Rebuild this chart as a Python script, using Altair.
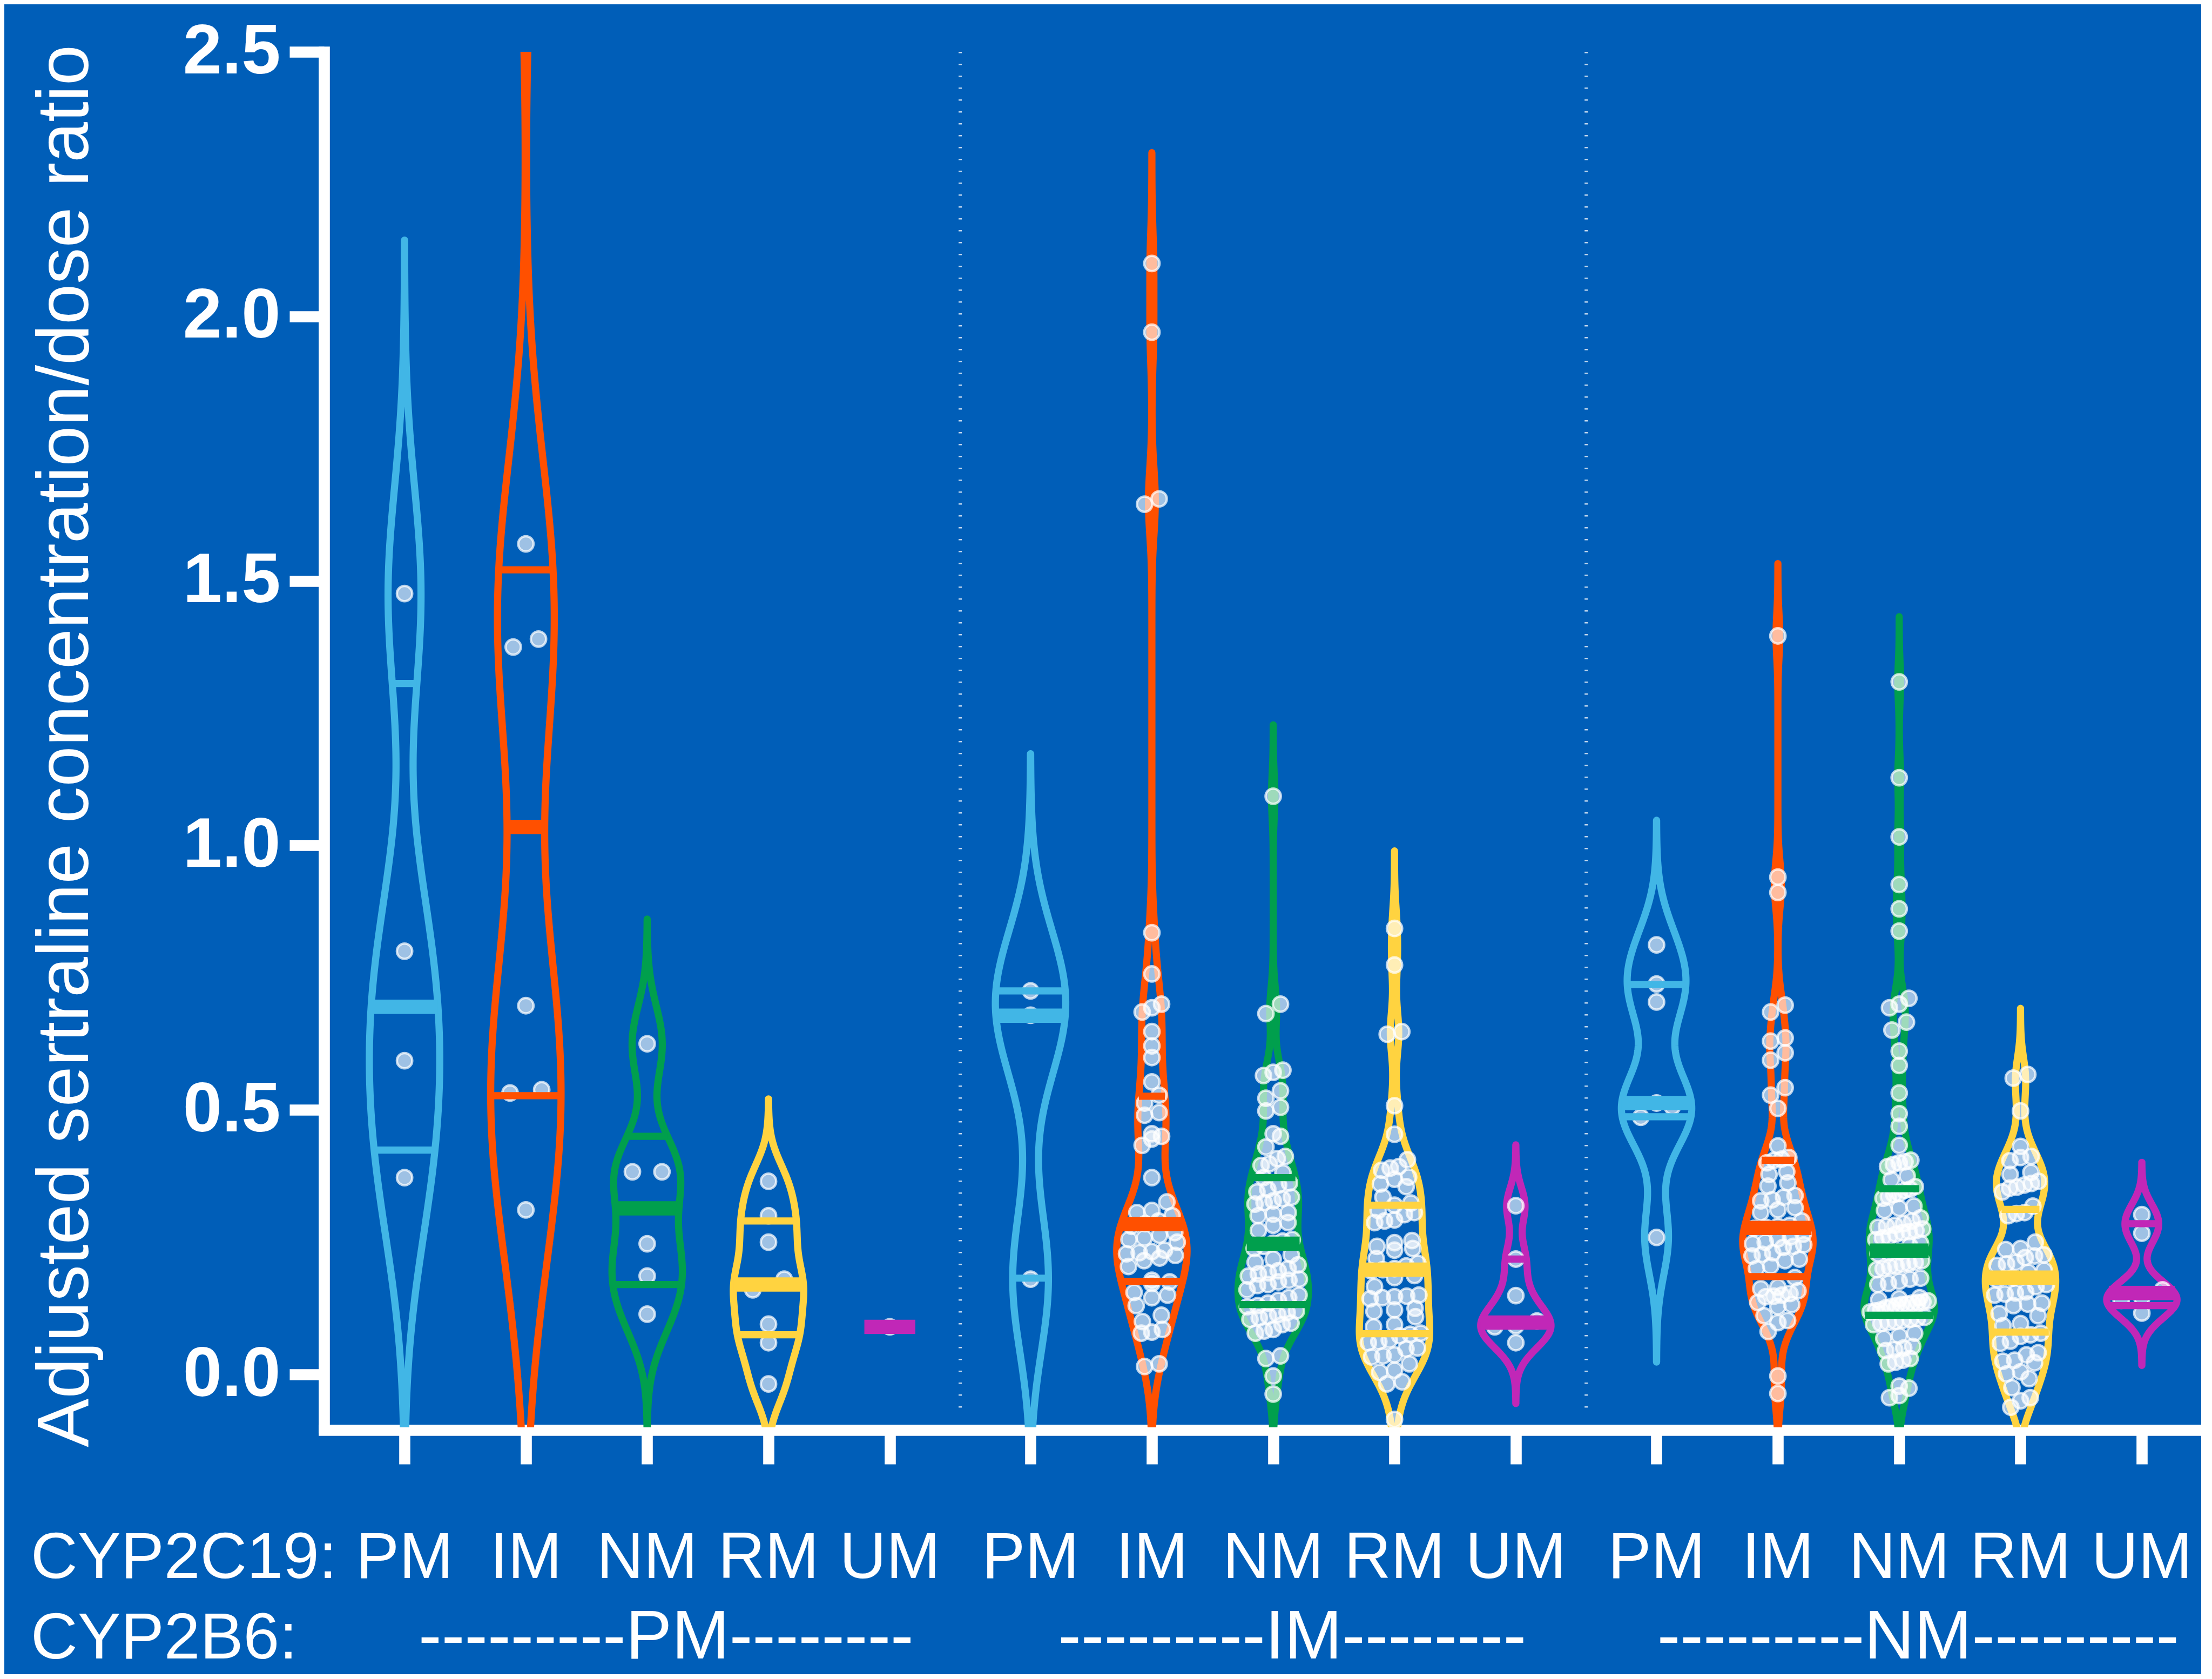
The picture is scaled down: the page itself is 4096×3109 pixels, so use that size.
import numpy as np
import pandas as pd
import altair as alt

# ---------------- data ----------------
cyp2c19 = ["PM", "IM", "NM", "RM", "UM"]
cyp2b6_rows = ["---------PM--------", "---------IM--------", "---------NM---------"]
row1_prefix = "CYP2C19:"
row2_prefix = "CYP2B6:"
y_title = "Adjusted sertraline concentration/dose ratio"
y_ticks = [0.0, 0.5, 1.0, 1.5, 2.0, 2.5]
phenotype_colors = ["#41B6E6", "#FF5000", "#009F4D", "#FFD340", "#C127B7"]

# CYP2B6 PM  (CYP2C19 PM, IM, NM, RM, UM)
pm_pm = [0.372, 0.593, 0.80, 1.476]
pm_im = [0.311, 0.532, 0.538, 0.697, 1.375, 1.39, 1.57, 3.0]
pm_nm = [0.114, 0.186, 0.247, 0.383, 0.383, 0.625]
pm_rm = [-0.018, 0.06, 0.095, 0.16, 0.18, 0.25, 0.30, 0.365]
pm_um = [0.09]

# CYP2B6 IM
im_pm = [0.18, 0.679, 0.725]
im_im = [2.10, 1.97, 1.655, 1.645, 0.835, 0.757, 0.70, 0.693, 0.685, 0.648, 0.621,
         0.599, 0.553, 0.528, 0.513, 0.495, 0.49, 0.455, 0.45, 0.445, 0.433, 0.372,
         0.326, 0.31, 0.306, 0.30, 0.29, 0.285, 0.28, 0.268, 0.263, 0.258, 0.255, 0.25,
         0.235, 0.232, 0.23, 0.228, 0.225, 0.22, 0.215, 0.204, 0.178, 0.175, 0.172,
         0.155, 0.15, 0.145, 0.13, 0.112, 0.10, 0.085, 0.08, 0.078, 0.02, 0.015]
im_nm = [1.093, 0.70, 0.682, 0.575, 0.571, 0.565, 0.536, 0.522, 0.505, 0.498, 0.455,
         0.45, 0.43, 0.412, 0.408, 0.398, 0.395, 0.381, 0.372, 0.362, 0.358, 0.35,
         0.345, 0.335, 0.332, 0.328, 0.325, 0.322, 0.306, 0.303, 0.30, 0.287, 0.282,
         0.272, 0.255, 0.252, 0.248, 0.242, 0.238, 0.226, 0.218, 0.212, 0.207, 0.2,
         0.196, 0.192, 0.19, 0.186, 0.18, 0.178, 0.175, 0.17, 0.168, 0.16, 0.15, 0.145,
         0.14, 0.135, 0.13, 0.128, 0.12, 0.117, 0.113, 0.11, 0.107, 0.104, 0.097, 0.094,
         0.085, 0.082, 0.078, 0.035, 0.03, -0.003, -0.037]
im_rm = [0.843, 0.774, 0.648, 0.643, 0.508, 0.454, 0.406, 0.393, 0.39, 0.386, 0.373,
         0.369, 0.36, 0.355, 0.335, 0.324, 0.32, 0.31, 0.306, 0.302, 0.292, 0.29, 0.287,
         0.253, 0.249, 0.242, 0.238, 0.235, 0.219, 0.21, 0.205, 0.2, 0.198, 0.196, 0.187,
         0.183, 0.166, 0.15, 0.148, 0.147, 0.145, 0.143, 0.125, 0.122, 0.119, 0.109,
         0.094, 0.09, 0.078, 0.076, 0.073, 0.065, 0.062, 0.06, 0.05, 0.048, 0.037, 0.035,
         0.033, 0.02, 0.008, 0.004, -0.014, -0.018, -0.085]
im_um = [0.06, 0.09, 0.092, 0.101, 0.149, 0.218, 0.319]

# CYP2B6 NM
nm_pm = [0.259, 0.486, 0.506, 0.513, 0.704, 0.738, 0.812]
nm_im = [1.396, 0.94, 0.911, 0.698, 0.685, 0.636, 0.63, 0.608, 0.594, 0.542, 0.528,
         0.503, 0.432, 0.41, 0.407, 0.405, 0.40, 0.383, 0.378, 0.362, 0.356, 0.338,
         0.335, 0.33, 0.328, 0.315, 0.311, 0.306, 0.29, 0.282, 0.28, 0.278, 0.276, 0.265,
         0.26, 0.256, 0.25, 0.247, 0.245, 0.242, 0.24, 0.23, 0.227, 0.224, 0.218, 0.215,
         0.205, 0.2, 0.183, 0.165, 0.162, 0.158, 0.153, 0.15, 0.148, 0.147, 0.136, 0.132,
         0.128, 0.111, 0.102, 0.098, 0.081, -0.003, -0.036]
nm_nm = [1.309, 1.128, 1.016, 0.926, 0.88, 0.838, 0.711, 0.70, 0.693, 0.666, 0.651,
         0.611, 0.584, 0.532, 0.493, 0.469, 0.433, 0.405, 0.402, 0.40, 0.397, 0.393,
         0.375, 0.368, 0.355, 0.35, 0.348, 0.342, 0.34, 0.336, 0.333, 0.318, 0.314, 0.31,
         0.296, 0.29, 0.285, 0.282, 0.28, 0.278, 0.275, 0.272, 0.27, 0.268, 0.265, 0.26,
         0.258, 0.255, 0.248, 0.243, 0.232, 0.23, 0.228, 0.215, 0.212, 0.21, 0.208, 0.205,
         0.203, 0.2, 0.198, 0.182, 0.18, 0.176, 0.172, 0.17, 0.145, 0.143, 0.141, 0.139,
         0.137, 0.136, 0.135, 0.133, 0.132, 0.13, 0.128, 0.126, 0.122, 0.12, 0.118, 0.108,
         0.106, 0.104, 0.102, 0.10, 0.098, 0.096, 0.094, 0.078, 0.073, 0.068, 0.053, 0.05,
         0.047, 0.045, 0.03, 0.027, 0.023, 0.02, -0.022, -0.026, -0.04, -0.044]
nm_rm = [0.567, 0.56, 0.498, 0.431, 0.412, 0.41, 0.404, 0.382, 0.378, 0.365, 0.361,
         0.358, 0.354, 0.352, 0.345, 0.318, 0.306, 0.304, 0.30, 0.25, 0.238, 0.236, 0.226,
         0.224, 0.221, 0.212, 0.209, 0.206, 0.197, 0.193, 0.182, 0.179, 0.17, 0.166, 0.156,
         0.154, 0.152, 0.15, 0.135, 0.133, 0.13, 0.115, 0.111, 0.096, 0.092, 0.078, 0.075,
         0.072, 0.063, 0.059, 0.041, 0.037, 0.027, 0.025, 0.022, 0.005, 0.001, -0.008,
         -0.025, -0.044, -0.05, -0.062]
nm_um = [0.116, 0.14, 0.145, 0.16, 0.267, 0.302]

# quartile lines as drawn (same order as the groups)
q1_line = [0.424, 0.527, 0.17, 0.075, 0.09, 0.182, 0.176, 0.132, 0.077, 0.092,
           0.487, 0.185, 0.112, 0.08, 0.13]
median_line = [0.695, 1.035, 0.314, 0.17, 0.09, 0.678, 0.284, 0.247, 0.198, 0.098,
               0.513, 0.277, 0.234, 0.183, 0.154]
q3_line = [1.306, 1.521, 0.45, 0.29, 0.09, 0.725, 0.526, 0.372, 0.32, 0.218,
           0.737, 0.405, 0.351, 0.312, 0.285]

groups = [pm_pm, pm_im, pm_nm, pm_rm, pm_um,
          im_pm, im_im, im_nm, im_rm, im_um,
          nm_pm, nm_im, nm_nm, nm_rm, nm_um]

# ---------------- layout ----------------
S = 0.981
BG = "#005EB8"
PLOT_W, PLOT_H = 3476, 2547
PAD_L, PAD_T = 592, 88
TOTAL_H = 3092
GROUP_GAP = 0.16
UNIT_PX = 229 * S
X_LO = -152 / 229
X_HI = X_LO + PLOT_W / UNIT_PX
HALF_MAX = 0.29
LINE_W = 13.5 * S
MEDIAN_W = 27 * S
AXIS_W = 21 * S


def kde(v):
    n = len(v)
    sd = v.std(ddof=1)
    a, b = np.quantile(v, [0.25, 0.75], method="weibull")
    spread = min(sd, (b - a) / 1.34)
    bw = 0.56 * spread * n ** -0.2
    grid = np.linspace(v.min() - 3.3 * bw, v.max() + 3.3 * bw, 400)
    dens = np.exp(-0.5 * ((grid[:, None] - v[None, :]) / bw) ** 2).sum(axis=1)
    return grid, dens / dens.max()


def row_offsets(v, width_at, binh=0.022):
    order = np.argsort(v, kind="stable")
    offs = np.zeros(len(v))
    rows = []
    for idx in order:
        if rows and v[idx] - v[rows[-1][0]] < binh:
            rows[-1].append(idx)
        else:
            rows.append([idx])
    for r in rows:
        k = len(r)
        if k == 1:
            continue
        yc = float(np.mean(v[r]))
        W = max(2 * width_at(yc) * 0.9, 0.24)
        for j, idx in enumerate(r):
            offs[idx] = ((j + 0.5) / k - 0.5) * W
    return offs


viol, pts, rules, xlabs, ticks = [], [], [], [], []
for k, vals in enumerate(groups):
    g, i = divmod(k, 5)
    center = g * (5 + GROUP_GAP) + i
    ticks.append(center)
    ph = cyp2c19[i]
    xlabs.append(dict(x=center, text=ph))
    v = np.asarray(vals, float)
    if len(v) > 1:
        grid, dens = kde(v)
        half = HALF_MAX * dens
        for yy, hh in zip(grid, half):
            viol.append(dict(gid=k, ph=ph, y=yy, x=center - hh, x2=center + hh))

        def width_at(y, grid=grid, half=half):
            return float(np.interp(y, grid, half, left=0.0, right=0.0))
    else:
        def width_at(y):
            return 0.21
    offs = row_offsets(v, width_at)
    for val, o in zip(v, offs):
        pts.append(dict(x=center + o, y=val, ph=ph))
    for qv, kind in ((q1_line[k], "q"), (q3_line[k], "q"), (median_line[k], "m")):
        if len(v) == 1 and kind == "q":
            continue
        h = width_at(qv)
        rules.append(dict(x=center - h, x2=center + h, y=qv, ph=ph, kind=kind))

seps = []
for g in range(2):
    a = g * (5 + GROUP_GAP) + 4
    b = (g + 1) * (5 + GROUP_GAP)
    seps.append(dict(x=(a + b) / 2, y=2.5, y2=-0.07))

row2 = [dict(x=g * (5 + GROUP_GAP) + 2, text=t) for g, t in enumerate(cyp2b6_rows)]

df_v = pd.DataFrame(viol)
df_p = pd.DataFrame(pts)
df_r = pd.DataFrame(rules)
df_s = pd.DataFrame(seps)
df_xl = pd.DataFrame(xlabs)
df_r2 = pd.DataFrame(row2)
df_pre = pd.DataFrame([dict(t1=row1_prefix, t2=row2_prefix)])

xs = alt.Scale(domain=[X_LO, X_HI], nice=False, zero=False)
ys = alt.Scale(domain=[-0.1, 2.5], nice=False, zero=False)

x_axis = alt.Axis(values=ticks, labels=False, title=None, grid=False,
                  domainColor="white", domainWidth=AXIS_W, domainCap="square",
                  tickColor="white", tickWidth=AXIS_W, tickSize=63, offset=5)
y_axis = alt.Axis(values=y_ticks, format=".1f", grid=False,
                  labelFont="Liberation Sans", labelFontWeight="bold", labelFontSize=130,
                  labelColor="white", labelPadding=17, labelFlush=False, labelOverlap=False,
                  labelLimit=1000,
                  domainColor="white", domainWidth=AXIS_W, domainCap="square",
                  tickColor="white", tickWidth=AXIS_W, tickSize=64,
                  title=y_title, titleFont="Liberation Sans", titleFontSize=135,
                  titleFontWeight="normal", titleColor="white", titleAngle=270,
                  titleX=-438, titleY=1285, titleAlign="center", titleBaseline="alphabetic",
                  titleLimit=4000)


def X(f="x"):
    return alt.X(f"{f}:Q", scale=xs, axis=x_axis, title=None)


def Y(f="y"):
    return alt.Y(f"{f}:Q", scale=ys, axis=y_axis, title=y_title)


stroke = alt.Stroke("ph:N", scale=alt.Scale(domain=cyp2c19, range=phenotype_colors), legend=None)

sep_layer = alt.Chart(df_s).mark_rule(color="white", opacity=0.75, strokeWidth=6,
                                      strokeDash=[2.5, 19.5]).encode(
    x=X(), y=Y(), y2="y2:Q")

viol_layer = alt.Chart(df_v).mark_area(orient="horizontal", fillOpacity=0, strokeWidth=LINE_W,
                                       strokeJoin="round", strokeCap="round", clip=True).encode(
    y=Y(), x=X(), x2="x2:Q", detail="gid:N", stroke=stroke)

pt_layer = alt.Chart(df_p).mark_circle(size=800, fill="white", fillOpacity=0.62, stroke="white",
                                       strokeOpacity=0.72, strokeWidth=4.5, opacity=1, clip=True).encode(
    x=X(), y=Y())

rule_layer = alt.Chart(df_r).mark_rule(clip=True).encode(
    x=X(), x2="x2:Q", y=Y(), stroke=stroke,
    strokeWidth=alt.StrokeWidth("kind:N", scale=alt.Scale(domain=["q", "m"], range=[LINE_W, MEDIAN_W]),
                                legend=None))

ROW1_Y = 2826
ROW2_Y = 2975
FONT = "Liberation Sans"
FS1 = 120
FS2 = 128

xlab_layer = alt.Chart(df_xl).mark_text(font=FONT, fontSize=FS1, color="white", align="center",
                                        baseline="alphabetic").encode(
    x=X(), y=alt.value(ROW1_Y), text="text:N")
row2_layer = alt.Chart(df_r2).mark_text(font=FONT, fontSize=FS2, color="white", align="center",
                                        baseline="alphabetic", dx=35).encode(
    x=X(), y=alt.value(ROW2_Y), text="text:N")
pre1 = alt.Chart(df_pre).mark_text(font=FONT, fontSize=FS1, color="white", align="left",
                                   baseline="alphabetic").encode(
    x=alt.value(-543), y=alt.value(ROW1_Y), text="t1:N")
pre2 = alt.Chart(df_pre).mark_text(font=FONT, fontSize=FS1, color="white", align="left",
                                   baseline="alphabetic").encode(
    x=alt.value(-543), y=alt.value(ROW2_Y), text="t2:N")

chart = alt.layer(sep_layer, viol_layer, pt_layer, rule_layer,
                  xlab_layer, row2_layer, pre1, pre2).properties(
    width=PLOT_W, height=PLOT_H,
    padding={"left": PAD_L, "top": PAD_T, "right": 0, "bottom": TOTAL_H - PAD_T - PLOT_H},
    autosize=alt.AutoSizeParams(type="none"),
    background=BG,
).configure_view(stroke=None)

chart.save("out.html", embed_options={"renderer": "svg", "actions": False})
